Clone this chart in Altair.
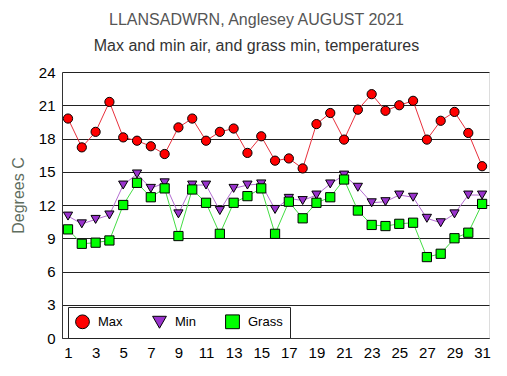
import altair as alt
import pandas as pd

days = list(range(1, 32))
max_temp = [19.8, 17.2, 18.6, 21.3, 18.1, 17.8, 17.3, 16.6, 19.0, 19.8,
            17.8, 18.6, 18.9, 16.7, 18.2, 16.0, 16.2, 15.3, 19.3, 20.3,
            17.9, 20.6, 22.0, 20.5, 21.0, 21.4, 17.9, 19.6, 20.4, 18.5, 15.5]
min_temp = [11.0, 10.3, 10.7, 11.1, 13.8, 14.8, 13.5, 14.0, 11.2, 13.8,
            13.8, 11.5, 13.5, 13.8, 13.9, 11.6, 12.6, 12.4, 12.9, 13.9,
            14.7, 13.6, 12.2, 12.3, 12.9, 12.7, 10.8, 10.4, 11.2, 12.9, 12.9]
grass_temp = [9.8, 8.5, 8.6, 8.8, 12.0, 14.0, 12.7, 13.5, 9.2, 13.4,
              12.2, 9.4, 12.2, 12.8, 13.5, 9.4, 12.3, 10.8, 12.2, 12.7,
              14.3, 11.5, 10.2, 10.1, 10.3, 10.4, 7.3, 7.6, 9.0, 9.5, 12.1]
series_names = ["Max", "Min", "Grass"]
line_colors = ["#e8303c", "#b46ed2", "#44dd44"]
marker_fills = ["#ff0000", "#9933cc", "#00ff00"]
marker_strokes = ["#000000", "#000000", "#000000"]
marker_shapes = ["circle", "triangle-down", "square"]
x_ticks = list(range(1, 32, 2))
y_ticks = list(range(0, 25, 3))

rows = []
for i, (name, vals) in enumerate(zip(series_names, [max_temp, min_temp, grass_temp])):
    for d, v in zip(days, vals):
        rows.append({"day": d, "temp": v, "series": name, "order": i})
df = pd.DataFrame(rows)

FONT = "Liberation Sans"

x_enc = alt.X("day:Q", scale=alt.Scale(domain=[0.565, 31.5], nice=False, zero=False),
              axis=alt.Axis(values=x_ticks, title=None, grid=False, ticks=False,
                            labelFontSize=15, labelFont=FONT, labelColor="#000",
                            labelPadding=7, domainColor="#333", labelFlush=False))
y_enc = alt.Y("temp:Q", scale=alt.Scale(domain=[0, 24], nice=False),
              axis=alt.Axis(values=y_ticks, title="Degrees C", grid=True,
                            gridColor="#222", gridOpacity=1, ticks=False,
                            labelFontSize=15, labelFont=FONT, labelColor="#000",
                            labelPadding=7, domainColor="#333",
                            titleFont=FONT, titleFontSize=16, titleFontWeight="normal",
                            titleColor="#5f6e5f", titleX=-36, titleY=123))

legend_cfg = alt.Legend(title=None, orient="none", legendX=6, legendY=235,
                        direction="horizontal", strokeColor="#222",
                        fillColor="white", padding=7, columnPadding=27,
                        symbolSize=190, symbolStrokeWidth=1, labelFont=FONT,
                        labelFontSize=13, labelColor="#000", labelOffset=8)

line_layers = [
    alt.Chart(df).transform_filter(alt.datum.series == name)
    .mark_line(strokeWidth=1, color=col).encode(x=x_enc, y=y_enc)
    for name, col in zip(series_names, line_colors)
]

points = alt.Chart(df).mark_point(filled=True, strokeWidth=1,
                                  opacity=1, size=85).encode(
    x=x_enc, y=y_enc,
    fill=alt.Fill("series:N", scale=alt.Scale(domain=series_names, range=marker_fills),
                  legend=legend_cfg),
    shape=alt.Shape("series:N", scale=alt.Scale(domain=series_names, range=marker_shapes),
                    legend=legend_cfg),
    stroke=alt.Stroke("series:N", scale=alt.Scale(domain=series_names, range=marker_strokes),
                      legend=legend_cfg),
    order=alt.Order("order:Q"),
)

chart = alt.layer(*line_layers, points).properties(
    width=427, height=266,
    autosize=alt.AutoSizeParams(type="none"),
    padding={"left": 62, "top": 72, "right": 18, "bottom": 38},
    title=alt.TitleParams(
        text="LLANSADWRN, Anglesey AUGUST 2021",
        subtitle="Max and min air, and grass min, temperatures",
        anchor="middle", font=FONT, fontSize=16, fontWeight="normal", color="#555",
        subtitleFont=FONT, subtitleFontSize=16, subtitleColor="#333",
        subtitlePadding=10, offset=11, dx=-19),
).configure_view(stroke="#333", strokeWidth=1).configure(background="white")

chart.save("out.html", embed_options={"renderer": "svg", "actions": False})
